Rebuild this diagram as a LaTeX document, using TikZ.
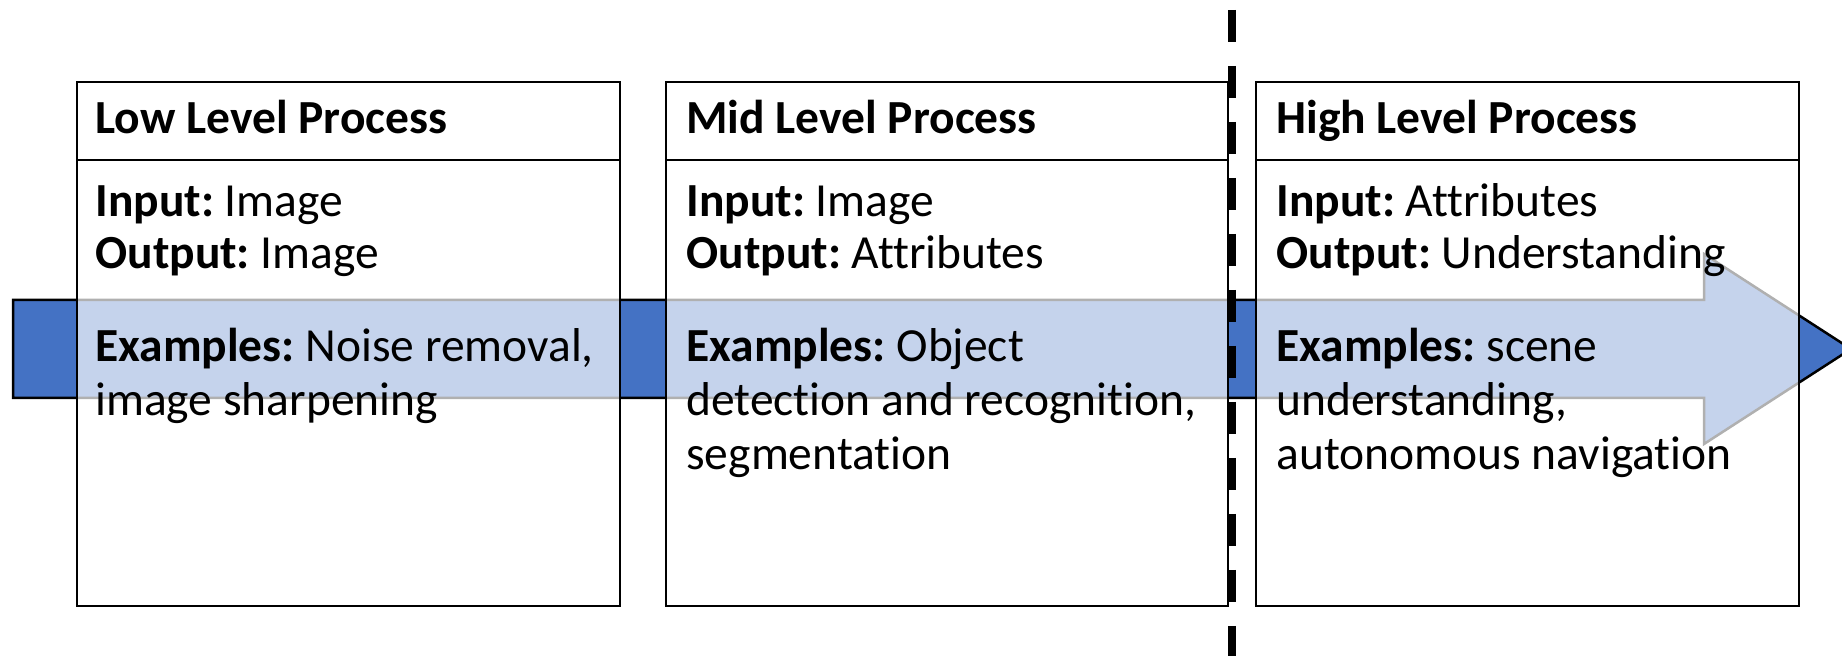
\documentclass[tikz,border=0pt]{standalone}
\usepackage{fontspec}
\setmainfont[Ligatures={NoCommon,NoRare,NoDiscretionary}]{Carlito}
\definecolor{flowblue}{HTML}{4472C4}
\begin{document}
\frenchspacing
\begin{tikzpicture}[x=0.5pt,y=-0.5pt,
  procbox/.style={draw=black, line width=1.25pt, fill=white, fill opacity=0.69, draw opacity=1, text opacity=1, inner sep=0pt, outer sep=0pt, anchor=north west, minimum height=262pt},
  divline/.style={draw=black, line width=1.25pt},
  flow/.style={fill=flowblue, draw=black, line width=1.25pt, line join=miter},
  txt/.style={anchor=base west, inner sep=0pt, font=\fontsize{23.75}{27}\selectfont},
  sepline/.style={line width=4pt, dash pattern=on 16pt off 12pt}]
\useasboundingbox (0,0) rectangle (1842,656);
% big arrow behind the boxes
\draw[flow] (13,300) -- (1704,300) -- (1704,254) -- (1851,349) -- (1704,444) -- (1704,398) -- (13,398) -- cycle;
% boxes
\node[procbox, minimum width=271.5pt] (low) at (77,82) {};
\node[procbox, minimum width=281pt] (mid) at (666,82) {};
\node[procbox, minimum width=271.5pt] (high) at (1256,82) {};
\draw[divline] (low.west |- 0,160) -- (low.east |- 0,160);
\draw[divline] (mid.west |- 0,160) -- (mid.east |- 0,160);
\draw[divline] (high.west |- 0,160) -- (high.east |- 0,160);
% low level text
\node[txt] (lowT) at (95,134) {\bfseries Low Level Process};
\node[txt] (lowI) at (95,217) {\textbf{Input:} Image};
\node[txt] (lowO) at (95,269) {\textbf{Output:} Image};
\node[txt] (lowE1) at (95,362) {\textbf{Examples:} Noise removal,};
\node[txt] (lowE2) at (95,416) {image sharpening};
% mid level text
\node[txt] (midT) at (686,134) {\bfseries Mid Level Process};
\node[txt] (midI) at (686,217) {\textbf{Input:} Image};
\node[txt] (midO) at (686,269) {\textbf{Output:} Attributes};
\node[txt] (midE1) at (686,362) {\textbf{Examples:} Object};
\node[txt] (midE2) at (686,416) {detection and recognition,};
\node[txt] (midE3) at (686,470) {segmentation};
% high level text
\node[txt] (highT) at (1276,134) {\bfseries High Level Process};
\node[txt] (highI) at (1276,217) {\textbf{Input:} Attributes};
\node[txt] (highO) at (1276,269) {\textbf{Output:} Understanding};
\node[txt] (highE1) at (1276,362) {\textbf{Examples:} scene};
\node[txt] (highE2) at (1276,416) {understanding,};
\node[txt] (highE3) at (1276,470) {autonomous navigation};
% dashed separator
\coordinate (septop) at (1232,10);
\coordinate (sepbot) at (1232,690);
\draw[sepline] (septop) -- (sepbot);
\end{tikzpicture}
\end{document}
